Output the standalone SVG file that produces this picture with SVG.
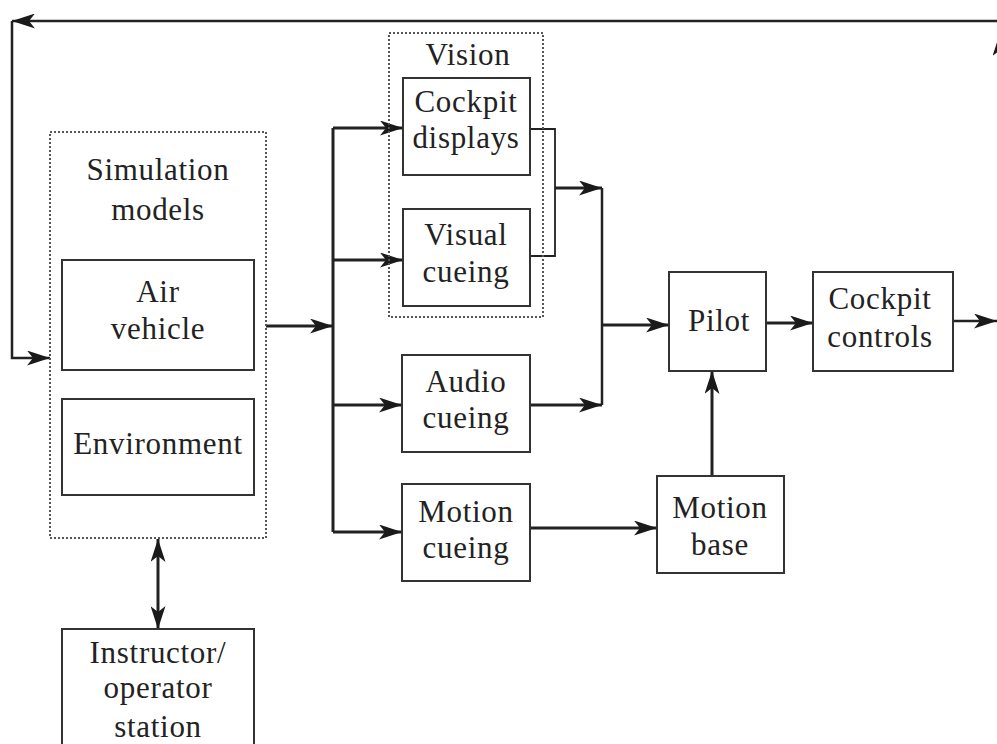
<svg xmlns="http://www.w3.org/2000/svg" width="997" height="744" viewBox="0 0 997 744">
<defs>
<style>
.box{fill:#fff;stroke:#333;stroke-width:2}
.dot{fill:none;stroke:#555;stroke-width:2;stroke-dasharray:2 2}
.ln{fill:none;stroke:#222;stroke-width:3}
.thin{fill:none;stroke:#222;stroke-width:1.8}
.t{font-family:"Liberation Serif","Times New Roman",serif;font-size:31px;fill:#222;text-anchor:middle;letter-spacing:0.7px}
</style>
<marker id="ah" markerUnits="userSpaceOnUse" viewBox="0 0 23 15" refX="23" refY="7.5" markerWidth="23" markerHeight="15" orient="auto-start-reverse">
<path d="M0,0 L23,7.5 L0,15 L6,7.5 z" fill="#1a1a1a"/>
</marker>
</defs>
<rect width="997" height="744" fill="#fff"/>
<g id="connectors">
<path class="ln" d="M997,21 L12,21" marker-end="url(#ah)" style="stroke-width:2.5"/>
<path class="ln" d="M12,21 L12,358 L50,358" marker-end="url(#ah)" style="stroke-width:2.5"/>
<path class="ln" d="M1000,340 L1000,33" marker-end="url(#ah)"/>
<path class="ln" d="M266,326 L333,326" marker-end="url(#ah)"/>
<path class="ln" d="M333,128 L333,532"/>
<path class="ln" d="M333,128 L403,128" marker-end="url(#ah)"/>
<path class="ln" d="M333,260 L403,260" marker-end="url(#ah)"/>
<path class="ln" d="M333,405 L402,405" marker-end="url(#ah)"/>
<path class="ln" d="M333,532 L402,532" marker-end="url(#ah)"/>
<path class="thin" d="M530,129 L555,129 L555,256 L530,256"/>
<path class="ln" d="M555,188 L602,188" marker-end="url(#ah)"/>
<path class="ln" d="M530,405 L602,405" marker-end="url(#ah)"/>
<path class="ln" d="M602,188 L602,405" style="stroke-width:2.5"/>
<path class="ln" d="M602,325 L669,325" marker-end="url(#ah)"/>
<path class="ln" d="M766,323 L813,323" marker-end="url(#ah)"/>
<path class="ln" d="M953,321 L997,321" marker-end="url(#ah)" style="stroke-width:2.5"/>
<path class="ln" d="M530,528 L657,528" marker-end="url(#ah)"/>
<path class="ln" d="M712,476 L712,371" marker-end="url(#ah)"/>
<path class="ln" d="M158,539 L158,629" marker-start="url(#ah)" marker-end="url(#ah)"/>
</g>
<g id="simulation-models">
<rect class="dot" x="50" y="132" width="216" height="406"/>
<text class="t" x="158" y="180">Simulation</text>
<text class="t" x="158" y="220">models</text>
</g>
<g id="air-vehicle">
<rect class="box" x="62" y="260" width="192" height="110"/>
<text class="t" x="158" y="302">Air</text>
<text class="t" x="158" y="339">vehicle</text>
</g>
<g id="environment">
<rect class="box" x="62" y="399" width="192" height="96"/>
<text class="t" x="158" y="454">Environment</text>
</g>
<g id="instructor">
<rect class="box" x="62" y="629" width="192" height="130"/>
<text class="t" x="158" y="663">Instructor/</text>
<text class="t" x="158" y="698">operator</text>
<text class="t" x="158" y="737">station</text>
</g>
<g id="vision">
<rect class="dot" x="389" y="33" width="154" height="284"/>
<text class="t" x="468" y="65">Vision</text>
</g>
<g id="cockpit-displays">
<rect class="box" x="403" y="78" width="127" height="97"/>
<text class="t" x="466" y="112">Cockpit</text>
<text class="t" x="466" y="148">displays</text>
</g>
<g id="visual-cueing">
<rect class="box" x="403" y="209" width="127" height="97"/>
<text class="t" x="466" y="245">Visual</text>
<text class="t" x="466" y="282">cueing</text>
</g>
<g id="audio-cueing">
<rect class="box" x="402" y="355" width="128" height="97"/>
<text class="t" x="466" y="392">Audio</text>
<text class="t" x="466" y="428">cueing</text>
</g>
<g id="motion-cueing">
<rect class="box" x="402" y="484" width="128" height="97"/>
<text class="t" x="466" y="522">Motion</text>
<text class="t" x="466" y="558">cueing</text>
</g>
<g id="pilot">
<rect class="box" x="669" y="272" width="97" height="99"/>
<text class="t" x="719" y="331">Pilot</text>
</g>
<g id="cockpit-controls">
<rect class="box" x="813" y="272" width="140" height="99"/>
<text class="t" x="880" y="309">Cockpit</text>
<text class="t" x="880" y="347">controls</text>
</g>
<g id="motion-base">
<rect class="box" x="657" y="476" width="127" height="97"/>
<text class="t" x="720" y="518">Motion</text>
<text class="t" x="720" y="555">base</text>
</g>
</svg>
